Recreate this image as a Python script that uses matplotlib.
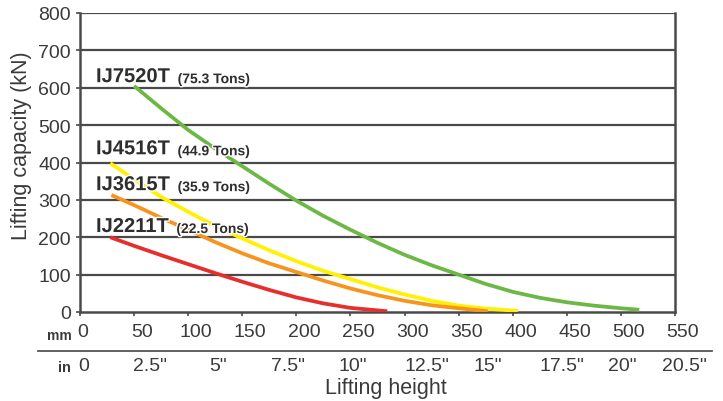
import matplotlib
matplotlib.use("Agg")
import matplotlib.pyplot as plt
import matplotlib.transforms as mtransforms
import matplotlib.patheffects as pe
from matplotlib.lines import Line2D

# ---------------- data ----------------
green_mm = [50, 75, 100, 125, 150, 175, 200, 225, 250, 275, 300, 325, 350, 375, 400, 425, 450, 475, 500, 517]
green_kn = [605, 545, 487, 437, 390, 343, 298, 257, 220, 185, 153, 125, 100, 75, 54, 38, 26, 17, 10, 6]

yellow_mm = [28, 50, 75, 100, 125, 150, 175, 200, 225, 250, 275, 300, 325, 350, 375, 405]
yellow_kn = [398, 355, 308, 268, 230, 197, 165, 136, 110, 88, 66, 47, 30, 17, 9, 3]

orange_mm = [29, 50, 75, 100, 125, 150, 175, 200, 225, 250, 275, 300, 325, 350, 377]
orange_kn = [313, 286, 252, 220, 187, 157, 130, 107, 84, 63, 45, 30, 18, 10, 2]

red_mm = [28, 50, 75, 100, 125, 150, 175, 200, 225, 250, 284]
red_kn = [200, 177, 152, 128, 104, 81, 59, 39, 23, 11, 2]

models = ["IJ7520T", "IJ4516T", "IJ3615T", "IJ2211T"]
tons = ["(75.3 Tons)", "(44.9 Tons)", "(35.9 Tons)", "(22.5 Tons)"]

y_ticks = [0, 100, 200, 300, 400, 500, 600, 700, 800]
mm_ticks = [0, 50, 100, 150, 200, 250, 300, 350, 400, 450, 500, 550]
in_labels = ['0', '2.5"', '5"', '7.5"', '10"', '12.5"', '15"', '17.5"', '20"', '20.5"']
in_label_mm = [3, 65, 128, 192, 252, 321, 377, 445, 501, 559]

# ---------------- style ----------------
TXT = "#3a3a3a"
GRID = "#4a4a4a"
C_GREEN = "#6cb845"
C_YELLOW = "#fff100"
C_ORANGE = "#f7941d"
C_RED = "#e62e2d"

plt.rcParams['font.family'] = ['Liberation Sans', 'DejaVu Sans']

fig = plt.figure(figsize=(7.23, 4.02), dpi=100)
ax = fig.add_axes([80 / 723, (402 - 313) / 402, 595 / 723, 299 / 402])

ax.set_xlim(0, 550)
ax.set_ylim(0, 800)

# grid
for v in y_ticks[1:]:
    ax.axhline(v, color=GRID, lw=1.6, zorder=1)

ax.spines['top'].set_visible(False)
for s in ['left', 'right', 'bottom']:
    ax.spines[s].set_color(GRID)
    ax.spines[s].set_linewidth(1.8)

lw = 2.7
for xs, ys, c in [(green_mm, green_kn, C_GREEN), (yellow_mm, yellow_kn, C_YELLOW),
                  (orange_mm, orange_kn, C_ORANGE), (red_mm, red_kn, C_RED)]:
    ax.plot(xs, ys, color=c, lw=lw, solid_capstyle='butt',
            solid_joinstyle='round', zorder=3)

# ticks
ax.set_yticks(y_ticks)
ax.set_yticklabels([str(v) for v in y_ticks])
ax.set_xticks(mm_ticks)
ax.set_xticklabels([str(v) for v in mm_ticks])
ax.tick_params(axis='y', length=3, width=1.2, color=GRID, pad=3.5,
               labelsize=14, labelcolor=TXT)
ax.tick_params(axis='x', length=3, width=1.2, color=GRID, pad=5,
               labelsize=14, labelcolor=TXT)

for i, lab in enumerate(ax.get_xticklabels()):
    dx = 2.5 if i == 0 else 8
    lab.set_transform(lab.get_transform() +
                      mtransforms.ScaledTranslation(dx / 100, 0, fig.dpi_scale_trans))

# inch labels
blend = mtransforms.blended_transform_factory(ax.transData, ax.transAxes)
for lab, pos in zip(in_labels, in_label_mm):
    ax.annotate(lab, xy=(pos, 0), xycoords=blend, xytext=(0, -54 * 0.72),
                textcoords='offset points', ha='center', va='center',
                fontsize=14, color=TXT, annotation_clip=False)

# unit labels
fig.text(59 / 723, 1 - 336 / 402, "mm", ha='center', va='center',
         fontsize=10, fontweight='bold', color=TXT)
fig.text(64.5 / 723, 1 - 368 / 402, "in", ha='center', va='center',
         fontsize=10.5, fontweight='bold', color=TXT)

# separator line
fig.add_artist(Line2D([38 / 723, 712 / 723], [1 - 352 / 402, 1 - 352 / 402],
                      color="#555555", lw=1.3))

# axis titles
fig.text(22 / 723, 1 - 146 / 402, "Lifting capacity (kN)", rotation=90,
         ha='center', va='center', fontsize=15.5, color=TXT)
fig.text(386 / 723, 1 - 389 / 402, "Lifting height", ha='center', va='center',
         fontsize=15.5, color=TXT)

# model labels
label_y = [615, 422, 326, 214]
halo = [pe.withStroke(linewidth=2, foreground='white')]
for m, t, yy in zip(models, tons, label_y):
    big = ax.text(14.8, yy, m, ha='left', va='baseline', fontsize=14.5, fontweight='bold',
                  color="#2e2e2e", path_effects=halo, zorder=5)
    ax.annotate(t, xy=(1, 0), xycoords=big, xytext=(5.5, 0), textcoords='offset points',
                ha='left', va='bottom', fontsize=10, fontweight='bold',
                color="#2e2e2e", path_effects=halo, zorder=5)

fig.savefig("out.png", dpi=100)
